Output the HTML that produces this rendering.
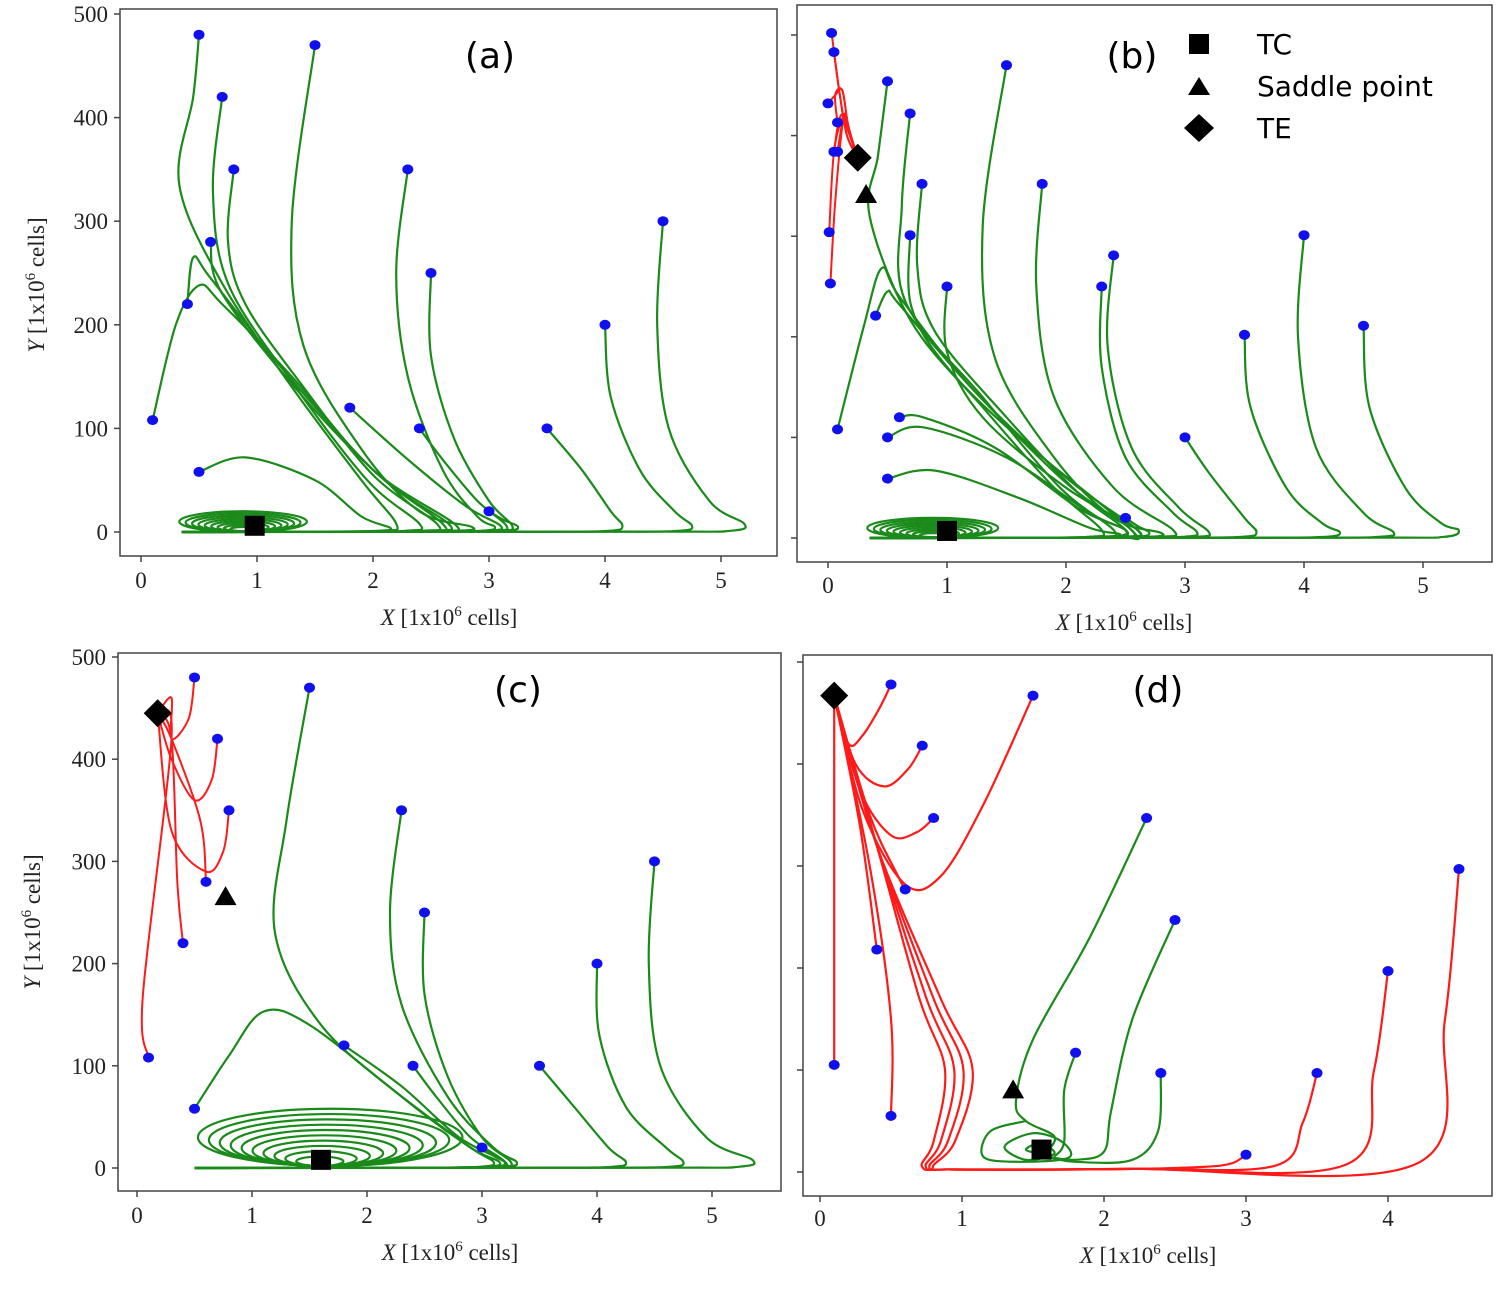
<!DOCTYPE html>
<html><head><meta charset="utf-8"><style>
html,body{margin:0;padding:0;background:#fff;}
svg{display:block}
.t{font-family:"Liberation Serif",serif;font-size:23px;fill:#222}
.l{font-family:"DejaVu Sans",sans-serif;font-size:36px;fill:#000}
.g{font-family:"DejaVu Sans",sans-serif;font-size:28px;fill:#000}
</style></head><body>
<svg id="s" width="1501" height="1306" viewBox="0 0 1501 1306" xmlns="http://www.w3.org/2000/svg">
<rect width="1501" height="1306" fill="#fff"/>
<g id="content"></g>
<text class="l" x="490" y="68" text-anchor="middle">(a)</text>
<text class="l" x="1132" y="68" text-anchor="middle">(b)</text>
<text class="l" x="518" y="702" text-anchor="middle">(c)</text>
<text class="l" x="1158" y="702" text-anchor="middle">(d)</text>
<rect x="1189" y="34" width="20" height="20" fill="#000"/>
<polygon points="1199,77 1210,95 1188,95" fill="#000"/>
<polygon points="1199,114 1214,128 1199,142 1184,128" fill="#000"/>
<text class="g" x="1257" y="54">TC</text>
<text class="g" x="1257" y="96">Saddle point</text>
<text class="g" x="1257" y="138">TE</text>
<text class="t" x="449" y="625" text-anchor="middle"><tspan font-style="italic">X</tspan> [1x10<tspan font-size="15" dy="-9">6</tspan><tspan dy="9"> cells]</tspan></text>
<text class="t" x="1124" y="630" text-anchor="middle"><tspan font-style="italic">X</tspan> [1x10<tspan font-size="15" dy="-9">6</tspan><tspan dy="9"> cells]</tspan></text>
<text class="t" x="450" y="1260" text-anchor="middle"><tspan font-style="italic">X</tspan> [1x10<tspan font-size="15" dy="-9">6</tspan><tspan dy="9"> cells]</tspan></text>
<text class="t" x="1148" y="1263" text-anchor="middle"><tspan font-style="italic">X</tspan> [1x10<tspan font-size="15" dy="-9">6</tspan><tspan dy="9"> cells]</tspan></text>
<text class="t" transform="translate(44,285) rotate(-90)" text-anchor="middle"><tspan font-style="italic">Y</tspan> [1x10<tspan font-size="15" dy="-9">6</tspan><tspan dy="9"> cells]</tspan></text>
<text class="t" transform="translate(40,922) rotate(-90)" text-anchor="middle"><tspan font-style="italic">Y</tspan> [1x10<tspan font-size="15" dy="-9">6</tspan><tspan dy="9"> cells]</tspan></text>
</svg>
<script>
var NS="http://www.w3.org/2000/svg",C=document.getElementById("content");
function el(n,a){var e=document.createElementNS(NS,n);for(var k in a)e.setAttribute(k,a[k]);C.appendChild(e);return e;}
function txt(x,y,s,anc){var e=el("text",{x:x,y:y,"class":"t","text-anchor":anc||"middle"});e.textContent=s;}
var P={
a:{x0:141,sx:116,y0:532,sy:1.036,box:[120,9,777,556],xt:[0,1,2,3,4,5],ly:true,tly:588},
b:{x0:828,sx:119,y0:538,sy:1.006,box:[797,5,1492,562],xt:[0,1,2,3,4,5],ly:false,tly:593},
c:{x0:137,sx:115,y0:1168,sy:1.022,box:[118,653,781,1191],xt:[0,1,2,3,4,5],ly:true,tly:1223},
d:{x0:820,sx:142,y0:1172,sy:1.02,box:[803,655,1492,1196],xt:[0,1,2,3,4],ly:false,tly:1226}
};
function X(p,x){return p.x0+x*p.sx}
function Y(p,y){return p.y0-y*p.sy}
function axes(p){
 var b=p.box;
 el("rect",{x:b[0],y:b[1],width:b[2]-b[0],height:b[3]-b[1],fill:"none",stroke:"#444","stroke-width":1.5});
 p.xt.forEach(function(t){var x=X(p,t);el("line",{x1:x,y1:b[3],x2:x,y2:b[3]+6,stroke:"#444","stroke-width":1.5});txt(x,p.tly,String(t));});
 [0,100,200,300,400,500].forEach(function(t){var y=Y(p,t);el("line",{x1:b[0]-6,y1:y,x2:b[0],y2:y,stroke:"#444","stroke-width":1.5});if(p.ly)txt(b[0]-12,y+8,String(t),"end");});
}
function cr(p,pts){
 var q=pts.map(function(a){return [X(p,a[0]),Y(p,a[1])]});
 var d="M"+q[0][0].toFixed(1)+","+q[0][1].toFixed(1);
 for(var i=0;i<q.length-1;i++){
  var p0=q[i-1]||q[i],p1=q[i],p2=q[i+1],p3=q[i+2]||p2;
  var c1=[p1[0]+(p2[0]-p0[0])/6,p1[1]+(p2[1]-p0[1])/6],c2=[p2[0]-(p3[0]-p1[0])/6,p2[1]-(p3[1]-p1[1])/6];
  d+="C"+c1.map(f).join(",")+" "+c2.map(f).join(",")+" "+p2.map(f).join(",");
 }
 return d;
}
function f(v){return v.toFixed(1)}
var G="#1a8a1a",R="#ff1a1a";
function ln(p,pts,col,w){el("path",{d:cr(p,pts),fill:"none",stroke:col,"stroke-width":w||2.2,"stroke-linejoin":"round"});}
function dot(p,x,y){el("ellipse",{cx:X(p,x),cy:Y(p,y),rx:5.5,ry:5,fill:"#1010ee"});}
function ret(pts,end){var l=pts[pts.length-1];return pts.concat([[l[0]-0.12,1.2],[l[0]-0.8,0.3],[end,0]]);}
function ell(p,cx,cy,rx,ry,col){el("ellipse",{cx:X(p,cx),cy:Y(p,cy),rx:rx*p.sx,ry:ry*p.sy,fill:"none",stroke:col,"stroke-width":2.2});}
function sq(p,x,y){el("rect",{x:X(p,x)-10,y:Y(p,y)-10,width:20,height:20,fill:"#000"});}
function tri(p,x,y){var cx=X(p,x),cy=Y(p,y);el("polygon",{points:[cx,cy-11,cx+11,cy+8,cx-11,cy+8].join(","),fill:"#000"});}
function dia(p,x,y){var cx=X(p,x),cy=Y(p,y);el("polygon",{points:[cx,cy-14,cx+14,cy,cx,cy+14,cx-14,cy].join(","),fill:"#000"});}
for(var k in P)axes(P[k]);

/* ---- panel a ---- */
var p=P.a,A=[
[[0.5,480],[0.45,420],[0.33,335],[0.7,240],[1.3,140],[1.9,50],[2.2,8]],
[[0.7,420],[0.62,330],[0.75,240],[1.3,145],[1.95,50],[2.4,8]],
[[0.8,350],[0.75,280],[0.9,220],[1.4,140],[2.0,55],[2.55,8]],
[[0.6,280],[0.7,230],[1.4,130],[2.1,50],[2.65,8]],
[[0.4,220],[0.45,265],[0.6,245],[1.2,160],[2.0,60],[2.6,8]],
[[0.1,108],[0.3,200],[0.5,238],[0.7,220],[1.3,150],[2.0,60],[2.7,8]],
[[0.5,58],[0.9,72],[1.5,50],[1.9,15],[2.15,4]],
[[1.5,470],[1.3,300],[1.4,180],[1.9,80],[2.4,20],[2.85,5]],
[[2.3,350],[2.2,250],[2.3,150],[2.6,60],[2.9,15],[3.05,5]],
[[2.5,250],[2.5,170],[2.7,90],[3.0,30],[3.2,6]],
[[1.8,120],[2.3,70],[2.8,25],[3.1,6]],
[[2.4,100],[2.6,70],[2.9,30],[3.15,6]],
[[3,20],[3.12,12],[3.25,5]],
[[3.5,100],[3.8,60],[4.05,20],[4.15,6]],
[[4,200],[4.05,130],[4.3,60],[4.6,20],[4.75,6]],
[[4.5,300],[4.45,200],[4.55,100],[4.9,30],[5.2,8]]];
A.forEach(function(t){ln(p,ret(t,0.35),G)});
for(var i=0;i<9;i++)ell(p,0.88,10-i*0.9,0.55-i*0.055,10-i*1.0,G);
A.forEach(function(t){dot(p,t[0][0],t[0][1])});
sq(p,0.98,6);

/* ---- panel b ---- */
p=P.b;var B=[
[[0.5,454],[0.42,380],[0.35,320],[0.7,215],[1.3,130],[1.9,50],[2.3,8]],
[[0.69,422],[0.62,330],[0.65,235],[1.3,140],[1.95,50],[2.4,8]],
[[0.79,352],[0.75,270],[0.9,205],[1.5,120],[2.1,45],[2.5,8]],
[[0.69,301],[0.7,230],[1.0,170],[1.6,100],[2.55,8]],
[[1.0,250],[1.0,185],[1.3,120],[2.0,50],[2.6,8]],
[[0.08,108],[0.3,210],[0.45,268],[0.6,240],[1.2,150],[2.0,60],[2.6,8]],
[[0.4,221],[0.5,245],[0.6,232],[1.2,150],[2.0,55],[2.55,8]],
[[0.6,120],[0.8,120],[1.4,90],[2.1,30],[2.5,8]],
[[0.5,100],[0.8,110],[1.5,80],[2.2,25],[2.5,8]],
[[0.5,59],[0.9,67],[1.6,40],[2.2,10],[2.45,4]],
[[1.5,470],[1.3,310],[1.4,180],[1.9,80],[2.4,20],[2.8,5]],
[[1.8,352],[1.75,250],[1.9,140],[2.4,50],[2.9,8]],
[[2.3,250],[2.3,170],[2.5,80],[2.9,25],[3.1,6]],
[[2.4,281],[2.35,190],[2.55,90],[2.95,30],[3.2,6]],
[[2.5,20],[2.6,12],[2.7,5]],
[[3.0,100],[3.2,65],[3.5,20],[3.6,6]],
[[3.5,202],[3.55,130],[3.85,50],[4.15,15],[4.3,6]],
[[4.0,301],[3.95,200],[4.1,90],[4.5,25],[4.75,6]],
[[4.5,211],[4.55,130],[4.85,50],[5.15,15],[5.3,8]]];
B.forEach(function(t){ln(p,ret(t,0.35),G)});
for(i=0;i<9;i++)ell(p,0.88,10-i*0.9,0.55-i*0.055,10-i*1.0,G);
var RB=[[0.03,502],[0.05,483],[0,432],[0.08,413],[0.05,384],[0.08,384],[0.01,304],[0.02,253]];
RB.forEach(function(s,j){
 var tgt=[0.25,378];
 if(s[1]>440) ln(p,[s,[0.1,440],[0.16,400],tgt],R,2);
 else if(s[1]>395) ln(p,[s,[0.06,440],[0.12,445],[0.17,410],tgt],R,2);
 else ln(p,[s,[s[0]+0.04,s[1]+(s[1]<320?80:30)],[0.13,425-j],[0.17,405],tgt],R,2);
});
B.forEach(function(t){dot(p,t[0][0],t[0][1])});
RB.forEach(function(s){dot(p,s[0],s[1])});
sq(p,1.0,7);tri(p,0.32,341);dia(p,0.25,378);

/* ---- panel c ---- */
p=P.c;var Cg=[
[[1.5,470],[1.3,340],[1.2,230],[1.6,140],[2.3,70],[2.9,20],[3.15,6]],
[[2.3,350],[2.2,250],[2.3,160],[2.7,70],[3.1,20],[3.3,6]],
[[2.5,250],[2.5,170],[2.7,90],[3.0,30],[3.25,6]],
[[1.8,120],[2.3,80],[2.8,30],[3.2,6]],
[[2.4,100],[2.6,70],[2.9,30],[3.2,6]],
[[3,20],[3.1,12],[3.2,5]],
[[3.5,100],[3.8,60],[4.1,20],[4.25,6]],
[[4,200],[4.02,130],[4.25,60],[4.6,20],[4.75,6]],
[[4.5,300],[4.45,200],[4.55,100],[4.95,30],[5.35,8]],
[[0.5,58],[0.8,110],[1.1,153],[1.5,140],[2.3,70],[2.9,20],[3.1,6]]];
Cg.forEach(function(t){ln(p,ret(t,0.5),G)});
for(i=0;i<10;i++){var ry=28-i*2.6;ell(p,1.68-i*0.01,2+ry,1.15-i*0.105,ry,G);}
[[0.5,480],[0.7,420],[0.8,350],[0.6,280],[0.4,220],[0.1,108]].forEach(function(s){
 var tgt=[0.18,445];
 if(s[1]>300) ln(p,[s,[s[0]-0.05,s[1]-40],[s[0]-0.2,s[1]-60],[0.3,s[1]-20],tgt],R,2);
 else ln(p,[s,[s[0]-0.05,s[1]+60],[0.3,420],tgt],R,2);
});
Cg.forEach(function(t){dot(p,t[0][0],t[0][1])});
[[0.5,480],[0.7,420],[0.8,350],[0.6,280],[0.4,220],[0.1,108]].forEach(function(s){dot(p,s[0],s[1])});
sq(p,1.6,8);tri(p,0.77,265);dia(p,0.18,445);

/* ---- panel d ---- */
p=P.d;var TE=[0.1,467];
ln(p,[TE,[0.2,420],[0.3,428],[0.42,455],[0.5,478]],R);
ln(p,[TE,[0.25,400],[0.45,378],[0.62,395],[0.72,418]],R);
ln(p,[TE,[0.28,375],[0.5,330],[0.68,333],[0.8,347]],R);
ln(p,[TE,[0.3,355],[0.6,282],[0.85,290],[1.15,360],[1.5,467]],R);
ln(p,[TE,[0.35,350],[0.55,290],[0.6,277]],R);
ln(p,[TE,[0.28,340],[0.4,218]],R);
ln(p,[TE,[0.1,300],[0.1,105]],R);
ln(p,[TE,[0.35,300],[0.5,150],[0.5,55]],R);
[[3,17],[3.5,97],[4,197],[4.5,297]].forEach(function(s,j){
 var o=j*0.05;
 ln(p,[TE,[0.4,320],[0.7+o,170],[0.88+o*1.3,100],[0.8+o,30],[0.72+o*0.5,5],[0.95,2.5],[2.2,3],[s[0]-0.3,5+o*20],[s[0]-0.1,s[1]*0.5],s],R);
});
var D=[
[[2.3,347],[1.9,230],[1.5,130],[1.38,70],[1.45,50],[1.65,35],[1.6,20]],
[[2.5,247],[2.2,150],[2.05,60],[2.0,20],[1.8,12],[1.6,15]],
[[1.8,117],[1.72,80],[1.72,30],[1.65,15]],
[[2.4,97],[2.38,40],[2.2,12],[1.8,10],[1.6,15]]];
D.forEach(function(t){ln(p,t,G)});
ln(p,[[1.45,50],[1.2,40],[1.15,15],[1.4,10],[1.75,14],[1.7,30],[1.5,38],[1.3,25],[1.45,12],[1.65,18],[1.55,28],[1.45,22],[1.55,18]],G);
[[0.5,478],[0.72,418],[0.8,347],[1.5,467],[0.6,277],[0.4,218],[0.1,105],[0.5,55],[3,17],[3.5,97],[4,197],[4.5,297]].forEach(function(s){dot(p,s[0],s[1])});
D.forEach(function(t){dot(p,t[0][0],t[0][1])});
sq(p,1.56,22);tri(p,1.36,80);dia(p,0.1,467);
</script>
</body></html>
